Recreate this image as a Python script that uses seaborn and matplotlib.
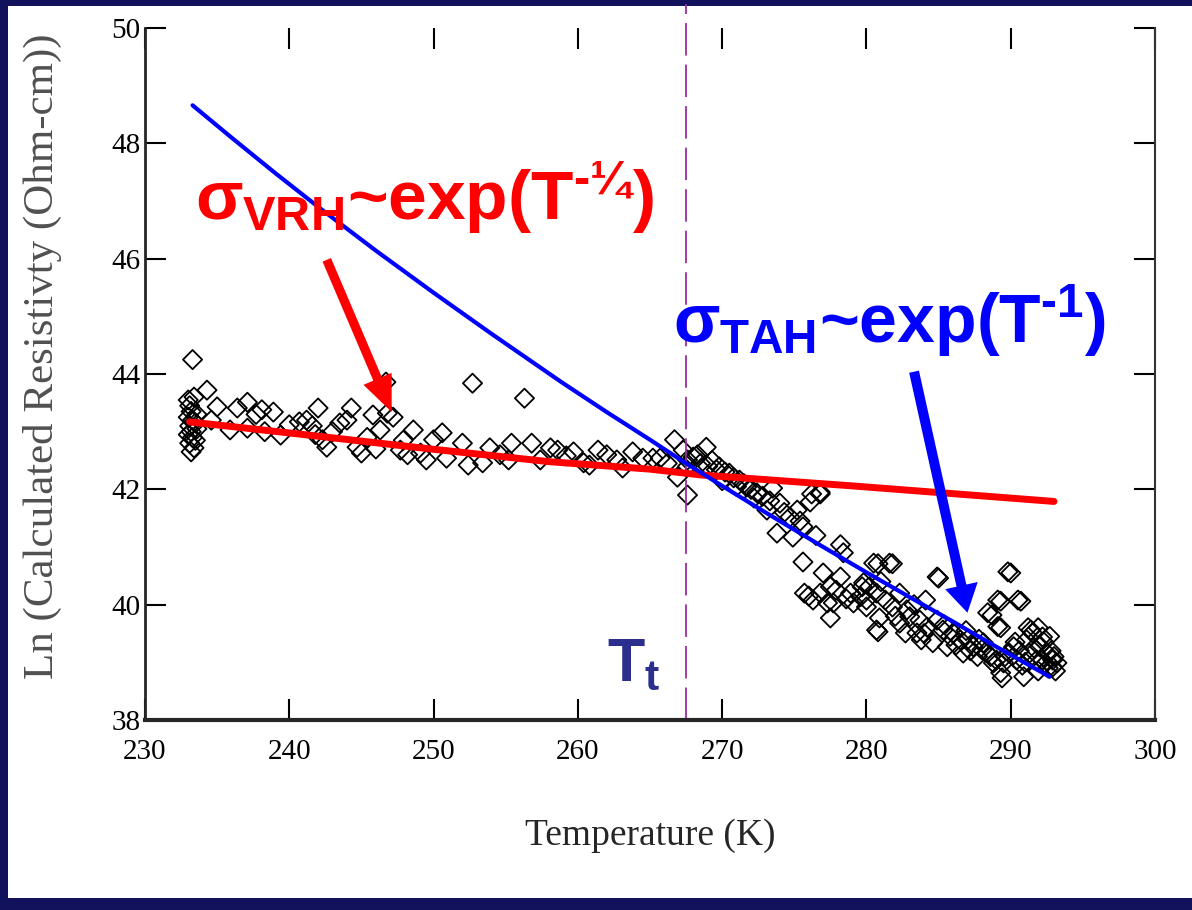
import matplotlib
matplotlib.use('Agg')
import matplotlib.pyplot as plt
import seaborn as sns
import pandas as pd
from matplotlib.patches import Rectangle

temp_pts = [
    233.0, 233.1, 233.2, 233.0, 233.3, 233.1, 233.2, 233.0, 233.3, 233.1, 233.4, 233.2, 233.5, 233.6, 233.3, 233.4, 233.6, 233.5,
    234.3, 235.0, 234.6, 235.9, 236.4, 237.1, 237.1, 237.7, 238.1, 238.9, 238.3, 239.4, 240.0, 240.7, 241.2, 241.6, 242.0, 242.3,
    242.6, 243.0, 243.5, 244.3, 244.7, 245.0, 245.4, 245.8, 246.3, 246.8, 246.7, 247.2, 247.7, 247.9, 248.6, 249.1, 249.5, 250.0,
    248.2, 246.0, 244.0, 241.8,
    250.6, 250.9, 252.0, 252.4, 252.7, 253.4, 253.9, 254.6, 255.2, 255.4, 256.3, 256.8, 257.4, 258.1, 258.6, 259.2, 259.7, 260.4,
    260.8, 261.4, 262.0, 262.7, 263.1, 263.8, 264.5, 265.2, 265.7, 266.2, 266.7, 266.9, 267.6, 267.6, 267.3, 268.0, 268.3, 268.9,
    269.6, 267.6,
    268.5, 269.0, 269.3, 269.8, 270.2, 270.5, 270.8, 271.2, 271.5, 271.7, 272.0, 272.4, 272.8, 273.1, 273.5, 273.3, 273.8, 274.0,
    274.3, 274.7, 274.9, 275.2, 275.4, 275.6, 276.1, 276.5, 276.8, 270.0, 271.0, 272.2, 276.2, 276.8,
    275.6, 275.7, 276.3, 276.8, 277.0, 277.3, 277.5, 277.7, 277.5, 278.2, 278.4, 278.2, 278.9, 279.1, 279.7, 280.0, 280.5, 280.7,
    280.7, 279.6, 279.8, 280.2, 278.6, 276.0, 277.9,
    280.8, 281.6, 281.8, 284.9, 289.8, 290.5, 289.1, 288.4, 289.1, 291.2, 280.8, 282.7, 283.8, 280.9, 280.0, 281.3, 284.1, 281.8,
    283.0, 284.2, 285.3, 286.5, 287.4, 288.4, 289.0, 289.5, 290.2, 291.1, 292.0, 292.5, 292.9, 293.2, 291.8, 292.2, 291.5, 290.9,
    289.3, 288.8, 287.7, 286.7, 285.6, 284.6, 283.5, 282.3, 282.8, 283.7, 284.9, 286.0, 287.0, 288.1, 289.9, 290.4, 291.3, 292.2,
    292.9, 292.6, 289.4, 291.4, 290.0, 289.3, 290.7, 288.7, 289.3, 285.0,
    285.8, 286.2, 287.2, 288.0, 288.6, 289.6, 290.6, 291.0, 291.6, 292.3, 292.8, 293.0, 292.4, 291.9, 290.8, 293.1, 292.7, 291.9,
    290.3, 287.8, 286.9, 285.4, 284.0, 282.0, 282.3, 283.3, 281.0,
]
lnrho_pts = [
    43.55, 43.45, 43.35, 43.25, 43.20, 43.10, 43.00, 42.95, 42.90, 42.80, 42.72, 42.65, 43.15, 43.05, 44.25, 43.60, 43.30, 42.85,
    43.72, 43.43, 43.20, 43.03, 43.41, 43.51, 43.06, 43.30, 43.38, 43.34, 43.00, 42.94, 43.12, 43.17, 43.20, 43.10, 43.41, 42.86,
    42.73, 43.00, 43.15, 43.41, 42.73, 42.63, 42.90, 43.29, 43.03, 43.32, 43.86, 43.25, 42.68, 42.85, 43.03, 42.63, 42.51, 42.86,
    42.60, 42.70, 43.20, 42.95,
    42.98, 42.54, 42.80, 42.42, 43.84, 42.46, 42.72, 42.60, 42.51, 42.80, 43.58, 42.80, 42.51, 42.72, 42.68, 42.58, 42.65, 42.46,
    42.42, 42.68, 42.60, 42.51, 42.37, 42.65, 42.54, 42.54, 42.54, 42.45, 42.86, 42.21, 41.90, 42.51, 42.68, 42.56, 42.60, 42.73,
    42.34, 42.40,
    42.45, 42.40, 42.50, 42.39, 42.30, 42.28, 42.20, 42.16, 42.10, 42.04, 42.00, 41.94, 41.88, 41.64, 42.02, 41.80, 41.24, 41.76,
    41.60, 41.52, 41.17, 41.64, 41.45, 41.35, 41.78, 41.20, 41.95, 42.15, 42.05, 41.85, 41.92, 41.92,
    40.74, 40.20, 40.08, 40.20, 40.55, 40.03, 40.31, 40.03, 39.77, 41.04, 40.90, 40.48, 40.20, 40.03, 40.31, 40.08, 40.72, 40.20,
    39.56, 40.14, 40.38, 40.31, 40.10, 40.15, 40.25,
    40.71, 40.72, 40.71, 40.48, 40.57, 40.08, 40.08, 39.86, 39.62, 39.60, 39.53, 39.51, 39.39, 39.77, 39.96, 40.08, 40.08, 39.96,
    39.79, 39.61, 39.56, 39.39, 39.27, 39.16, 39.04, 38.99, 39.27, 39.39, 39.27, 39.16, 39.04, 38.99, 39.04, 39.44, 39.51, 38.75,
    38.82, 38.99, 39.10, 39.16, 39.27, 39.34, 39.51, 39.68, 39.91, 39.73, 39.73, 39.51, 39.39, 39.34, 39.16, 39.04, 39.16, 39.04,
    38.92, 38.90, 38.73, 39.56, 40.55, 40.06, 40.06, 39.82, 39.60, 40.46,
    39.45, 39.30, 39.20, 39.22, 39.10, 39.10, 39.20, 39.00, 39.25, 39.35, 39.20, 39.10, 38.98, 38.85, 38.95, 38.85, 39.45, 39.60,
    39.35, 39.40, 39.55, 39.65, 39.50, 39.80, 40.20, 40.00, 40.40,
]

# VRH fit (red) and TAH fit (blue)
vrh_T = [233.1, 241.0, 249.8, 258.0, 265.0, 268.5, 279.0, 293.0]
vrh_ln = [43.17, 42.95, 42.70, 42.48, 42.35, 42.25, 42.06, 41.79]
tah_T = [233.3, 236.0, 239.0, 242.1, 246.0, 250.0, 254.0, 258.8, 262.0, 265.0, 267.5, 270.0, 273.0, 276.6, 280.0, 283.0, 285.9, 289.0, 292.7]
tah_ln = [48.66, 48.10, 47.49, 46.88, 46.14, 45.41, 44.70, 43.87, 43.34, 42.86, 42.45, 42.06, 41.60, 41.06, 40.56, 40.13, 39.72, 39.27, 38.75]

T_transition = 267.5
xticks = [230, 240, 250, 260, 270, 280, 290, 300]
yticks = [38, 40, 42, 44, 46, 48, 50]

df = pd.DataFrame({'T': temp_pts, 'lnrho': lnrho_pts})

sns.set_style('ticks')
plt.rcParams['font.family'] = ['Liberation Serif', 'DejaVu Serif']
plt.rcParams['mathtext.fontset'] = 'custom'
plt.rcParams['mathtext.rm'] = 'Liberation Sans:bold'
plt.rcParams['mathtext.it'] = 'Liberation Sans:bold'
plt.rcParams['mathtext.bf'] = 'Liberation Sans:bold'

fig = plt.figure(figsize=(11.92, 9.10), dpi=100, facecolor='#12125c')
# white "slide" area inside the dark blue frame
fig.add_artist(Rectangle((8 / 1192, 12 / 910), 1, 1 - 18 / 910, transform=fig.transFigure,
                         facecolor='white', edgecolor='none', zorder=-1))
ax = fig.add_axes([0.1216, 0.2088, 0.8474, 0.7604])
ax.set_facecolor('white')

sns.scatterplot(data=df, x='T', y='lnrho', marker='D', s=95, fc='none', ec='black',
                linewidth=1.3, ax=ax, zorder=2)
sns.lineplot(x=vrh_T, y=vrh_ln, color='#ff0000', lw=5, ax=ax, zorder=3)
sns.lineplot(x=tah_T, y=tah_ln, color='#0000ff', lw=3, ax=ax, zorder=3)

ax.axvline(T_transition, ymin=0, ymax=1.035, color='#9b2d9b', lw=1.3, dashes=(18, 5), clip_on=False)

ax.set_xlim(230, 300)
ax.set_ylim(38, 50)
ax.set_xticks(xticks)
ax.set_yticks(yticks)

ax.spines['top'].set_visible(False)
ax.spines['left'].set_linewidth(2)
ax.spines['bottom'].set_linewidth(3)
ax.spines['right'].set_linewidth(1.5)
ax.spines['right'].set_color('#333333')
ax.tick_params(axis='both', direction='in', length=15, width=1.5, top=True, right=True,
               labelsize=21, colors='black')
ax.tick_params(axis='x', pad=14)
ax.tick_params(axis='y', pad=3)

ax.set_xlabel('Temperature (K)', fontsize=27)
ax.set_ylabel('Ln (Calculated Resistivty (Ohm-cm))', fontsize=31, color='#505050')
ax.xaxis.set_label_coords(0.5, -0.142)
ax.yaxis.set_label_coords(-0.082, 0.525)

# annotations
ax.text(233.5, 46.67, r'$\sigma_{VRH}$~exp(T$^{‐¼}$)', color='#ff0000', fontsize=50,
        fontfamily='Liberation Sans', fontweight='bold', ha='left', va='baseline')
ax.text(266.6, 44.54, r'$\sigma_{TAH}$~exp(T$^{‐1}$)', color='#0000ff', fontsize=49,
        fontfamily='Liberation Sans', fontweight='bold', ha='left', va='baseline')
ax.text(262.0, 38.69, r'T$_{t}$', color='#2b2e8c', fontsize=44,
        fontfamily='Liberation Sans', fontweight='bold', ha='left', va='baseline')

ax.annotate('', xy=(247.1, 43.34), xytext=(242.6, 45.98),
            arrowprops=dict(arrowstyle='simple,head_length=1.3,head_width=1.1,tail_width=0.33',
                            mutation_scale=20, fc='#ff0000', ec='#ff0000', lw=0, shrinkA=0, shrinkB=0))
ax.annotate('', xy=(287.0, 39.86), xytext=(283.3, 44.04),
            arrowprops=dict(arrowstyle='simple,head_length=1.0,head_width=1.2,tail_width=0.36',
                            mutation_scale=20, fc='#0000ff', ec='#0000ff', lw=0, shrinkA=0, shrinkB=0))

fig.savefig('out.png', dpi=100, facecolor=fig.get_facecolor())
